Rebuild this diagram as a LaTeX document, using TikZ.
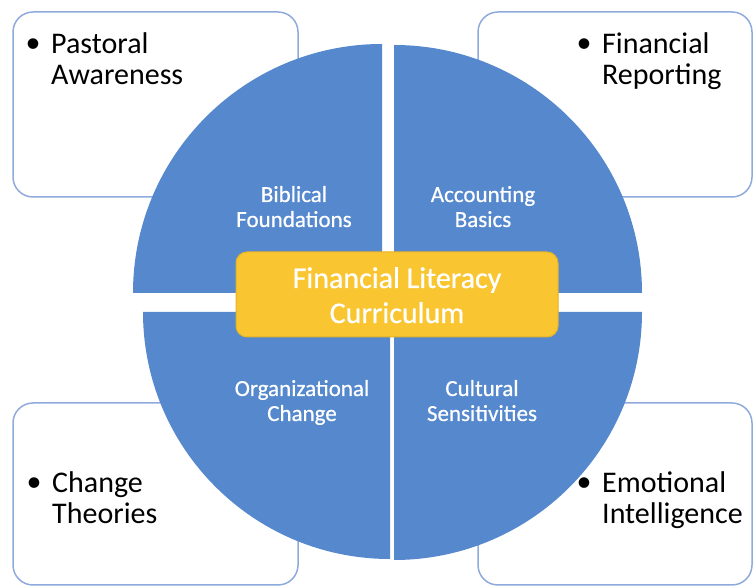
\documentclass[tikz,border=0pt]{standalone}
\usepackage{fontspec}
\setmainfont{Carlito}
\newfontfamily\wfont[FakeBold=0.6]{Carlito}
\definecolor{qblue}{RGB}{85,136,205}
\definecolor{cgold}{RGB}{249,198,50}
\definecolor{cgoldline}{RGB}{230,178,40}
\definecolor{boxline}{RGB}{143,170,220}
\tikzset{
  outerbox/.style={draw=boxline, line width=1.5pt, fill=white, rounded corners=20pt},
  quad/.style={fill=qblue, draw=none},
  quadlabel/.style={text=white, font=\wfont\fontsize{23}{25}\selectfont, align=center, anchor=base, inner sep=0pt},
  boxtext/.style={text=black, font=\fontsize{30}{31.5}\selectfont, align=left, anchor=base west, inner sep=0pt},
  centerbox/.style={fill=cgold, draw=cgoldline, line width=1pt, rounded corners=11pt,
    minimum width=322pt, minimum height=85pt, inner sep=0pt},
  centertext/.style={text=white, font=\wfont\fontsize{30}{35}\selectfont, align=center, anchor=base, inner sep=0pt}
}
\newcommand{\bul}{\llap{\makebox[36pt][c]{\raisebox{1pt}{•}}}}
\begin{document}
\begin{tikzpicture}[x=1pt,y=1pt]
\useasboundingbox (0,0) rectangle (753,586);
% outer boxes
\draw[outerbox] (13,389) rectangle (298,574);
\draw[outerbox] (478,389) rectangle (752,574);
\draw[outerbox] (13,1) rectangle (298,183);
\draw[outerbox] (478,1) rectangle (752,183);
% quadrants
\fill[quad] (382,293) -- ++(-249,0) arc (180:90:249) -- cycle;
\fill[quad] (394,293) -- ++(248,0) arc (0:90:248) -- cycle;
\fill[quad] (390,274) -- ++(-247,0) arc (180:270:247) -- cycle;
\fill[quad] (394,274) -- ++(248,0) arc (0:-90:248) -- cycle;
% quadrant labels (anchored at last-line baseline)
\node[quadlabel] (bib) at (294,359) {Biblical\\Foundations};
\node[quadlabel] (acc) at (483,359) {Accounting\\Basics};
\node[quadlabel] (org) at (302,165) {Organizational\\Change};
\node[quadlabel] (cul) at (482,165) {Cultural\\Sensitivities};
% box texts (anchored at last-line baseline)
\node[boxtext] (pas) at (51,501) {\bul Pastoral\\Awareness};
\node[boxtext] (rep) at (602,501) {\bul Financial\\Reporting};
\node[boxtext] (chg) at (52,62) {\bul Change\\Theories};
\node[boxtext] (emo) at (602,62) {\bul Emotional\\Intelligence};
% center
\node[centerbox] (ctr) at (397,291.5) {};
\node[centertext] (ctrtext) at (397,263) {Financial Literacy\\Curriculum};
\end{tikzpicture}
\end{document}
